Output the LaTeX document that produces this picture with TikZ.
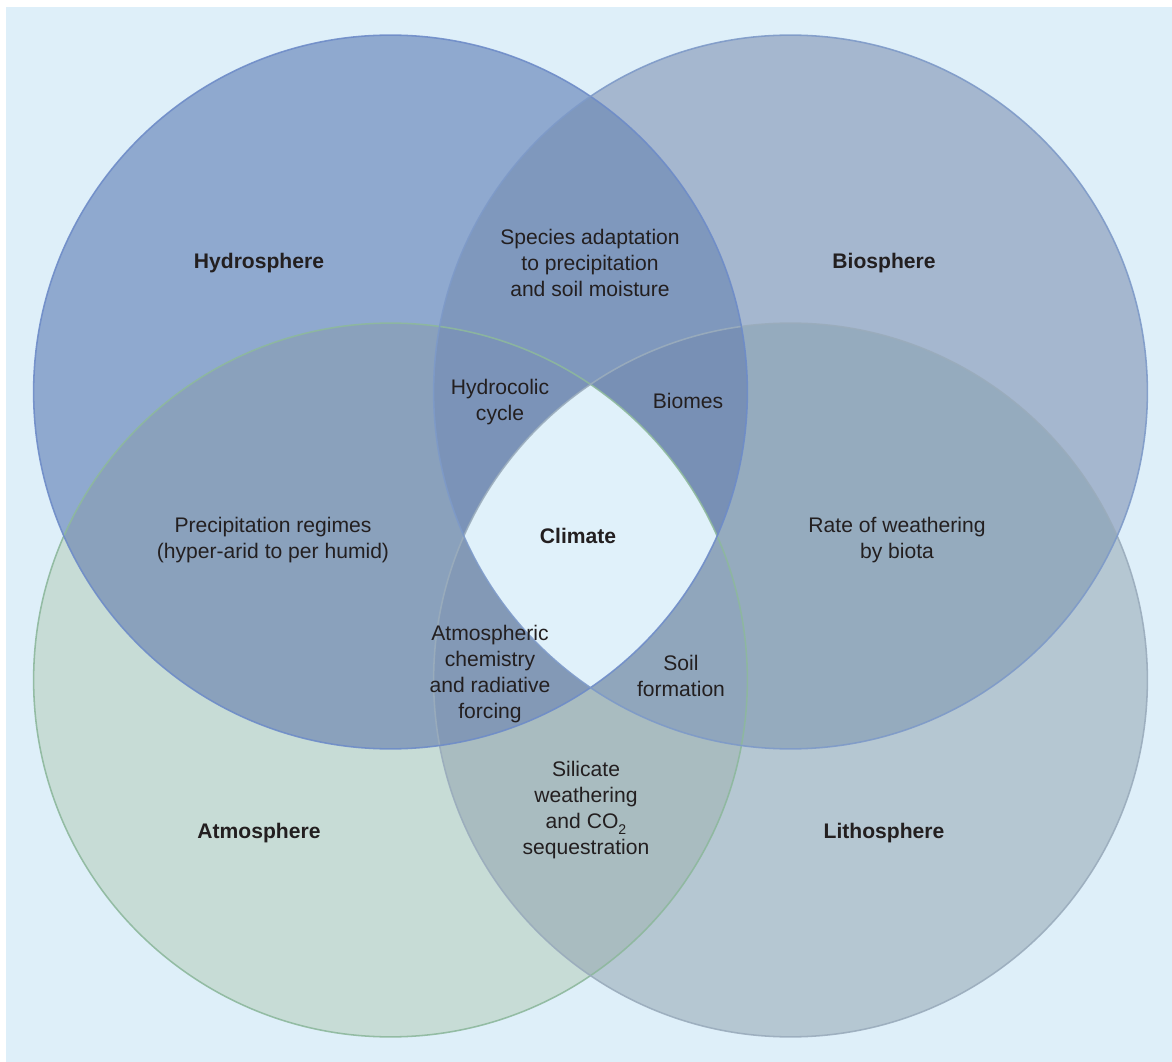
\documentclass[tikz,border=0pt]{standalone}
\usepackage{fontspec}
\setmainfont{Liberation Sans}
\definecolor{bgc}{RGB}{222,239,249}
\definecolor{ctr}{RGB}{224,241,250}
\definecolor{cH}{RGB}{143,169,207}
\definecolor{cB}{RGB}{165,183,207}
\definecolor{cA}{RGB}{199,220,214}
\definecolor{cL}{RGB}{181,199,210}
\definecolor{cHB}{RGB}{127,152,189}
\definecolor{cHA}{RGB}{138,161,188}
\definecolor{cBL}{RGB}{149,171,190}
\definecolor{cAL}{RGB}{169,188,192}
\definecolor{cHBA}{RGB}{123,147,184}
\definecolor{cHBL}{RGB}{120,144,181}
\definecolor{cHAL}{RGB}{131,153,182}
\definecolor{cBAL}{RGB}{144,166,188}
\definecolor{sH}{RGB}{110,140,200}
\definecolor{sB}{RGB}{126,154,200}
\definecolor{sA}{RGB}{141,184,157}
\definecolor{sL}{RGB}{154,172,188}
\definecolor{txt}{RGB}{35,31,32}
\newcommand{\subtwo}{\raisebox{-0.55ex}{\fontsize{10}{10}\selectfont 2}}
\begin{document}
\begin{tikzpicture}[x=0.025cm,y=-0.025cm,
  lbl/.style={font=\fontsize{15}{18.5}\selectfont, align=center, text=txt, inner sep=0pt},
  ttl/.style={font=\fontsize{15}{18.5}\selectfont\bfseries, align=center, text=txt, inner sep=0pt},
  ring/.style={line width=1.1pt, draw opacity=0.9}]
\useasboundingbox (0,0) rectangle (1172,1062);
\fill[white] (0,0) rectangle (1172,1062);
\fill[bgc] (6,7) rectangle (1172,1062);
\coordinate (H) at (390.5,392);
\coordinate (B) at (790.5,392);
\coordinate (A) at (390.5,680);
\coordinate (L) at (790.5,680);
\def\R{8.92cm}
% single circles
\fill[cH] (H) circle[radius=\R];
\fill[cB] (B) circle[radius=\R];
\fill[cA] (A) circle[radius=\R];
\fill[cL] (L) circle[radius=\R];
% pairs
\begin{scope}\clip (H) circle[radius=\R]; \fill[cHB] (B) circle[radius=\R];\end{scope}
\begin{scope}\clip (H) circle[radius=\R]; \fill[cHA] (A) circle[radius=\R];\end{scope}
\begin{scope}\clip (B) circle[radius=\R]; \fill[cBL] (L) circle[radius=\R];\end{scope}
\begin{scope}\clip (A) circle[radius=\R]; \fill[cAL] (L) circle[radius=\R];\end{scope}
% triples
\begin{scope}\clip (H) circle[radius=\R]; \clip (B) circle[radius=\R]; \fill[cHBA] (A) circle[radius=\R];\end{scope}
\begin{scope}\clip (H) circle[radius=\R]; \clip (B) circle[radius=\R]; \fill[cHBL] (L) circle[radius=\R];\end{scope}
\begin{scope}\clip (H) circle[radius=\R]; \clip (A) circle[radius=\R]; \fill[cHAL] (L) circle[radius=\R];\end{scope}
\begin{scope}\clip (B) circle[radius=\R]; \clip (A) circle[radius=\R]; \fill[cBAL] (L) circle[radius=\R];\end{scope}
% all four
\begin{scope}\clip (H) circle[radius=\R]; \clip (B) circle[radius=\R]; \clip (A) circle[radius=\R]; \fill[ctr] (L) circle[radius=\R];\end{scope}
% outlines
\draw[ring, sA] (A) circle[radius=\R];
\draw[ring, sL] (L) circle[radius=\R];
\draw[ring, sH] (H) circle[radius=\R];
\draw[ring, sB] (B) circle[radius=\R];
% labels
\node[ttl] (hydro) at (259,263) {Hydrosphere};
\node[ttl] (bio) at (884,263) {Biosphere};
\node[ttl] (atmo) at (259,833) {Atmosphere};
\node[ttl] (litho) at (884,833) {Lithosphere};
\node[ttl] (climate) at (578,536) {Climate};
\node[lbl] (species) at (590,263) {Species adaptation\\to precipitation\\and soil moisture};
\node[lbl] (hydrocolic) at (500,402) {Hydrocolic\\cycle};
\node[lbl] (biomes) at (688,401) {Biomes};
\node[lbl] (precip) at (273,540) {Precipitation regimes\\(hyper-arid to per humid)};
\node[lbl] (rate) at (897,540) {Rate of weathering\\by biota};
\node[lbl] (atmchem) at (490,674) {Atmospheric\\chemistry\\and radiative\\forcing};
\node[lbl] (soil) at (681,676) {Soil\\formation};
\node[lbl] (silicate) at (586,810) {Silicate\\weathering\\and CO\subtwo\\sequestration};
\end{tikzpicture}
\end{document}
